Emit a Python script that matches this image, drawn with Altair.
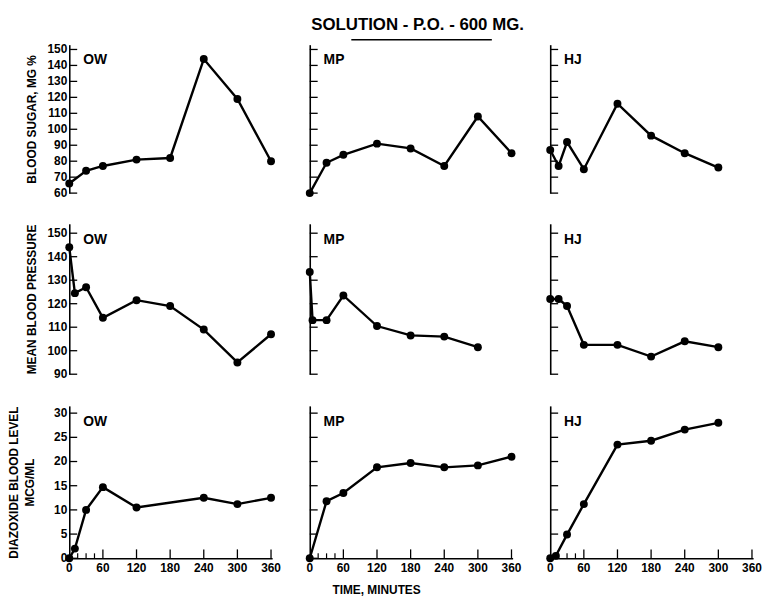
import altair as alt
import pandas as pd

# ---- data ----
SUBJECTS = ["OW", "MP", "HJ"]

# Blood sugar, mg %
OW_SUGAR_T = [0, 30, 60, 120, 180, 240, 300, 360]
OW_SUGAR_V = [66, 74, 77, 81, 82, 144, 119, 80]
MP_SUGAR_T = [0, 30, 60, 120, 180, 240, 300, 360]
MP_SUGAR_V = [60, 79, 84, 91, 88, 77, 108, 85]
HJ_SUGAR_T = [0, 15, 30, 60, 120, 180, 240, 300]
HJ_SUGAR_V = [87, 77, 92, 75, 116, 96, 85, 76]

# Mean blood pressure
OW_BP_T = [0, 10, 30, 60, 120, 180, 240, 300, 360]
OW_BP_V = [144, 124.5, 127, 114, 121.5, 119, 109, 95, 107]
MP_BP_T = [0, 5, 30, 60, 120, 180, 240, 300]
MP_BP_V = [133.5, 113, 113, 123.5, 110.5, 106.5, 106, 101.5]
HJ_BP_T = [0, 15, 30, 60, 120, 180, 240, 300]
HJ_BP_V = [122, 122, 119, 102.5, 102.5, 97.5, 104, 101.5]

# Diazoxide blood level, mcg/ml
OW_LVL_T = [0, 10, 30, 60, 120, 240, 300, 360]
OW_LVL_V = [0, 2, 10, 14.7, 10.5, 12.5, 11.2, 12.5]
MP_LVL_T = [0, 30, 60, 120, 180, 240, 300, 360]
MP_LVL_V = [0, 11.8, 13.5, 18.8, 19.7, 18.8, 19.2, 21]
HJ_LVL_T = [0, 10, 30, 60, 120, 180, 240, 300]
HJ_LVL_V = [0, 0.5, 4.9, 11.2, 23.5, 24.3, 26.6, 28]

SERIES = [
    [(OW_SUGAR_T, OW_SUGAR_V), (MP_SUGAR_T, MP_SUGAR_V), (HJ_SUGAR_T, HJ_SUGAR_V)],
    [(OW_BP_T, OW_BP_V), (MP_BP_T, MP_BP_V), (HJ_BP_T, HJ_BP_V)],
    [(OW_LVL_T, OW_LVL_V), (MP_LVL_T, MP_LVL_V), (HJ_LVL_T, HJ_LVL_V)],
]

Y_TICKS = [
    [60, 70, 80, 90, 100, 110, 120, 130, 140, 150],
    [90, 100, 110, 120, 130, 140, 150],
    [0, 5, 10, 15, 20, 25, 30],
]
Y_DOMAINS = [[60, 153], [90, 154], [0, 31.5]]
Y_TITLES = ["BLOOD SUGAR, MG %", "MEAN BLOOD PRESSURE", ["DIAZOXIDE BLOOD LEVEL", "MCG/ML"]]
X_LABELS = [0, 60, 120, 180, 240, 300, 360]
X_MAJOR_TICKS = [60, 120, 180, 240, 300, 360]
X_MINOR_TICKS = [15, 30, 45]
TITLE = "SOLUTION - P.O. - 600 MG."
X_TITLE = "TIME, MINUTES"

FONT = "Liberation Sans"
W = 205
HEIGHTS = [150, 152, 154]
TITLE_PAD = [31, 31, 33]


def panel(row, col):
    t, v = SERIES[row][col]
    df = pd.DataFrame({"t": t, "v": v})
    H = HEIGHTS[row]
    xs = alt.Scale(domain=[0, 362], nice=False, zero=False)
    ys = alt.Scale(domain=Y_DOMAINS[row], nice=False, zero=False)

    if col == 0:
        yaxis = alt.Axis(values=Y_TICKS[row], ticks=False, labels=False, domain=True,
                         grid=False, domainColor="black", domainWidth=1.6,
                         title=Y_TITLES[row], titleFont=FONT, titleFontSize=12,
                         titleFontWeight="bold", titleColor="black",
                         titleLineHeight=16, titlePadding=TITLE_PAD[row])
    else:
        yaxis = alt.Axis(values=Y_TICKS[row], ticks=False, labels=False,
                         domain=True, grid=False, domainColor="black",
                         domainWidth=1.6, title=None)

    if row == 2:
        xaxis = alt.Axis(values=X_LABELS, ticks=False, labels=False, domain=True,
                         grid=False, domainColor="black", domainWidth=1.6,
                         title=X_TITLE if col == 1 else None,
                         titleFont=FONT, titleFontSize=12, titleFontWeight="bold",
                         titleColor="black", titleX=67, titleY=27,
                         titleAlign="center", titleBaseline="top")
    else:
        xaxis = None

    line = alt.Chart(df).mark_line(color="black", strokeWidth=2.4).encode(
        x=alt.X("t:Q", scale=xs, axis=xaxis),
        y=alt.Y("v:Q", scale=ys, axis=yaxis),
    )
    pts = alt.Chart(df).mark_point(filled=True, color="black", size=64, opacity=1).encode(
        x=alt.X("t:Q", scale=xs),
        y=alt.Y("v:Q", scale=ys),
    )
    ytick_df = pd.DataFrame({"v": Y_TICKS[row]})
    yt = alt.Chart(ytick_df).mark_rule(color="black", strokeWidth=1.3).encode(
        y=alt.Y("v:Q", scale=ys),
        x=alt.value(0), x2=alt.value(8),
    )
    lab = alt.Chart(pd.DataFrame({"lab": [SUBJECTS[col]]})).mark_text(
        align="left", baseline="middle", font=FONT, fontSize=14, fontWeight="bold",
        color="black").encode(
        x=alt.value(14), y=alt.value(16), text="lab:N")
    layers = [line, pts, yt, lab]
    if col == 0:
        ylab = alt.Chart(ytick_df).mark_text(
            align="right", baseline="middle", dx=-2, font=FONT, fontSize=12,
            fontWeight="bold", color="black").encode(
            y=alt.Y("v:Q", scale=ys), x=alt.value(0),
            text=alt.Text("v:Q", format="d"))
        layers.append(ylab)
    if row == 2:
        xmaj = alt.Chart(pd.DataFrame({"t": X_MAJOR_TICKS})).mark_rule(
            color="black", strokeWidth=1.3).encode(
            x=alt.X("t:Q", scale=xs),
            y=alt.value(H), y2=alt.value(H - 9))
        xmin = alt.Chart(pd.DataFrame({"t": X_MINOR_TICKS})).mark_rule(
            color="black", strokeWidth=1.2).encode(
            x=alt.X("t:Q", scale=xs),
            y=alt.value(H), y2=alt.value(H - 5))
        xlab = alt.Chart(pd.DataFrame({"t": X_LABELS})).mark_text(
            align="center", baseline="top", dy=5, font=FONT, fontSize=12,
            fontWeight="bold", color="black").encode(
            x=alt.X("t:Q", scale=xs), y=alt.value(H),
            text=alt.Text("t:Q", format="d"))
        layers += [xmaj, xmin, xlab]
    if row == 0 and col == 1:
        ul = alt.Chart(pd.DataFrame({"a": [0]})).mark_rule(
            color="black", strokeWidth=1.5).encode(
            x=alt.value(42), x2=alt.value(184), y=alt.value(-5))
        layers.append(ul)
    return alt.layer(*layers).properties(width=W, height=H)


panels = [panel(r, c) for r in range(3) for c in range(3)]

chart = alt.concat(*panels, columns=3, spacing={"row": 25, "column": 24}).properties(
    title=alt.TitleParams(TITLE, anchor="middle", dx=33, font=FONT, fontSize=17,
                          fontWeight="bold", color="black", offset=5),
    padding={"left": 7, "top": 13, "right": 0, "bottom": 0},
).configure(background="white").configure_view(stroke=None)

chart.save("out.html", embed_options={"renderer": "svg", "actions": False})
